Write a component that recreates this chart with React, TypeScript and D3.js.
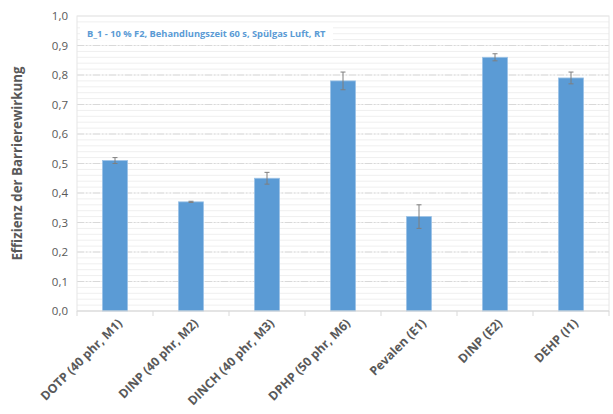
import React, { useEffect, useRef } from "react";
import * as d3 from "d3";

const categories = [
  "DOTP (40 phr, M1)",
  "DINP (40 phr, M2)",
  "DINCH (40 phr, M3)",
  "DPHP (50 phr, M6)",
  "Pevalen (E1)",
  "DINP (E2)",
  "DEHP (I1)",
];
const values = [0.51, 0.37, 0.45, 0.78, 0.32, 0.86, 0.79];
const errors = [0.01, 0.002, 0.02, 0.03, 0.04, 0.012, 0.02];
const yTicks = [0, 0.1, 0.2, 0.3, 0.4, 0.5, 0.6, 0.7, 0.8, 0.9, 1.0];
const minorTicks = d3.range(0, 1.0001, 0.02);

const title = "B_1 - 10 % F2, Behandlungszeit 60 s, Spülgas Luft, RT";
const yLabel = "Effizienz der Barrierewirkung";

const W = 613, H = 414;
const font = "'Open Sans', sans-serif";

export default function App() {
  const ref = useRef<SVGSVGElement>(null);

  useEffect(() => {
    const margin = { top: 16, right: 4, bottom: 103, left: 77 };
    const w = W - margin.left - margin.right;
    const h = H - margin.top - margin.bottom;

    const svg = d3.select(ref.current);
    svg.selectAll("*").remove();
    const g = svg.append("g").attr("transform", `translate(${margin.left},${margin.top})`);

    const x = d3.scaleBand().domain(categories).range([0, w]).paddingInner(0.67).paddingOuter(0.335);
    const y = d3.scaleLinear().domain([0, 1]).range([h, 0]);

    // minor grid
    g.selectAll(".minor")
      .data(minorTicks)
      .join("line")
      .attr("x1", 0).attr("x2", w)
      .attr("y1", (d) => y(d)).attr("y2", (d) => y(d))
      .attr("stroke", "#efefef").attr("stroke-width", 1);

    // major grid
    g.selectAll(".major")
      .data(yTicks.slice(1, -1))
      .join("line")
      .attr("x1", 0).attr("x2", w)
      .attr("y1", (d) => y(d)).attr("y2", (d) => y(d))
      .attr("stroke", "#d9d9d9").attr("stroke-width", 1)
      .attr("stroke-dasharray", "7,2,1.5,2,1.5,2");

    // plot frame
    g.append("rect")
      .attr("x", 0).attr("y", 0).attr("width", w).attr("height", h)
      .attr("fill", "none").attr("stroke", "#e6e6e6");

    // title box
    g.append("rect")
      .attr("x", 3).attr("y", 10).attr("width", 253).attr("height", 14)
      .attr("fill", "#fff");
    g.append("text")
      .attr("x", 10).attr("y", 21)
      .attr("font-family", font).attr("font-size", 9.3).attr("font-weight", "bold")
      .attr("fill", "#5b9bd5")
      .text(title);

    // bars
    g.selectAll(".bar")
      .data(values)
      .join("rect")
      .attr("x", (_, i) => x(categories[i])!)
      .attr("y", (d) => y(d))
      .attr("width", x.bandwidth())
      .attr("height", (d) => h - y(d))
      .attr("fill", "#5b9bd5")
      .attr("stroke", "#9dc3e6").attr("stroke-width", 0.8);

    // error bars
    const eb = g.selectAll(".err").data(values).join("g")
      .attr("transform", (_, i) => `translate(${x(categories[i])! + x.bandwidth() / 2},0)`);
    eb.append("line")
      .attr("y1", (d, i) => y(d + errors[i])).attr("y2", (d, i) => y(d - errors[i]))
      .attr("stroke", "#7f7f7f").attr("stroke-width", 1);
    eb.append("line").attr("x1", -2.5).attr("x2", 2.5)
      .attr("y1", (d, i) => y(d + errors[i])).attr("y2", (d, i) => y(d + errors[i]))
      .attr("stroke", "#7f7f7f");
    eb.append("line").attr("x1", -2.5).attr("x2", 2.5)
      .attr("y1", (d, i) => y(d - errors[i])).attr("y2", (d, i) => y(d - errors[i]))
      .attr("stroke", "#7f7f7f");

    // x axis
    const xa = g.append("g").attr("transform", `translate(0,${h})`);
    xa.append("line").attr("x1", 0).attr("x2", w).attr("stroke", "#d9d9d9");
    const step = w / categories.length;
    xa.selectAll(".tk").data(d3.range(categories.length + 1)).join("line")
      .attr("x1", (d) => d * step).attr("x2", (d) => d * step)
      .attr("y1", 0).attr("y2", 5).attr("stroke", "#d9d9d9");
    xa.selectAll(".lbl").data(categories).join("text")
      .attr("transform", (d) => `translate(${x(d)! + x.bandwidth() / 2 + 5},${10}) rotate(-45)`)
      .attr("text-anchor", "end")
      .attr("dy", "0.35em")
      .attr("font-family", font).attr("font-size", 12.3).attr("font-weight", "bold")
      .attr("fill", "#595959")
      .text((d) => d);

    // y axis labels
    g.selectAll(".yl").data(yTicks).join("text")
      .attr("x", -9).attr("y", (d) => y(d)).attr("dy", "0.35em")
      .attr("text-anchor", "end")
      .attr("font-family", font).attr("font-size", 11.5)
      .attr("fill", "#595959")
      .text((d) => d3.format(".1f")(d).replace(".", ","));

    // y title
    g.append("text")
      .attr("transform", `translate(${-55},${h / 2}) rotate(-90)`)
      .attr("text-anchor", "middle")
      .attr("font-family", font).attr("font-size", 13.3).attr("font-weight", "bold")
      .attr("fill", "#595959")
      .text(yLabel);
  }, []);

  return (
    <div style={{ position: "fixed", left: 0, top: 0 }}>
      <svg ref={ref} width={W} height={H} style={{ display: "block", background: "#fff" }} />
    </div>
  );
}
